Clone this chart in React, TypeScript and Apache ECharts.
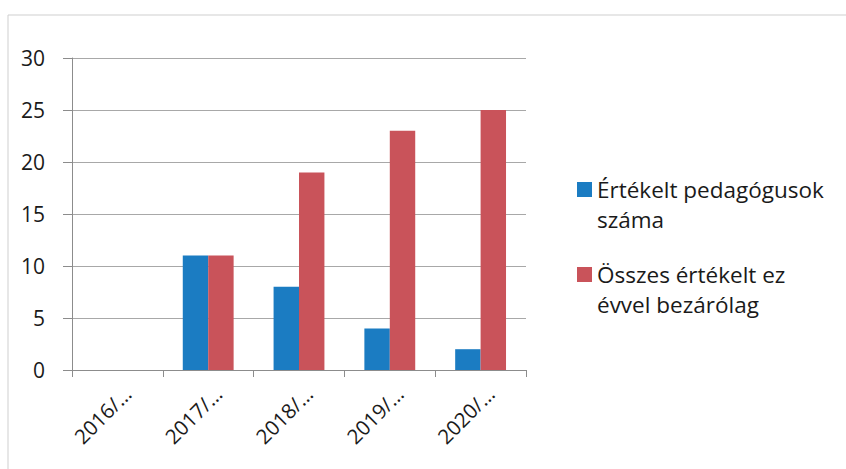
import React, { useEffect, useRef } from "react";
import * as echarts from "echarts";

const categories = ["2016/2017", "2017/2018", "2018/2019", "2019/2020", "2020/2021"];
const seriesNames = ["Értékelt pedagógusok\nszáma", "Összes értékelt ez\névvel bezárólag"];
const evaluated = [0, 11, 8, 4, 2];
const cumulative = [0, 11, 19, 23, 25];
const yTicks = { min: 0, max: 30, interval: 5 };

const FONT = "'Open Sans', 'Noto Sans', sans-serif";
// square placed in the upper part of a tall icon box so it lines up with the first text line
const LEGEND_ICON = "path://M0,0h0.01v0.01h-0.01z M0,7.5h15v15h-15z M0,59.99h0.01v0.01h-0.01z";

export default function App() {
  const ref = useRef<HTMLDivElement>(null);
  useEffect(() => {
    if (!ref.current) return;
    const chart = echarts.init(ref.current, null, { renderer: "svg" });
    chart.setOption({
      animation: false,
      backgroundColor: "#ffffff",
      textStyle: { fontFamily: FONT },
      grid: { left: 72, right: 320, top: 58, bottom: 99, containLabel: false },
      graphic: [
        { type: "line", shape: { x1: 8, y1: 15, x2: 8, y2: 469 }, style: { stroke: "#cfcfcf", lineWidth: 1 } },
        { type: "line", shape: { x1: 8, y1: 15, x2: 846, y2: 15 }, style: { stroke: "#cfcfcf", lineWidth: 1 } },
      ],
      legend: {
        data: seriesNames,
        orient: "vertical",
        left: 577,
        top: 174.5,
        padding: 0,
        itemGap: 25,
        icon: LEGEND_ICON,
        itemWidth: 15,
        itemHeight: 60,
        selectedMode: false,
        textStyle: {
          fontSize: 22.5,
          lineHeight: 30,
          color: "#1a1a1a",
          fontFamily: FONT,
        },
      },
      xAxis: {
        type: "category",
        data: categories,
        axisLine: { lineStyle: { color: "#8c8c8c", width: 1 } },
        axisTick: { show: true, length: 7, lineStyle: { color: "#8c8c8c" } },
        axisLabel: {
          rotate: 45,
          margin: 30,
          fontSize: 20.5,
          color: "#1a1a1a",
          fontFamily: FONT,
          padding: [0, -14, 0, 0],
          formatter: (v: string) => v.slice(0, 5) + "…",
        },
      },
      yAxis: {
        type: "value",
        min: yTicks.min,
        max: yTicks.max,
        interval: yTicks.interval,
        axisLine: { show: true, lineStyle: { color: "#8c8c8c", width: 1 } },
        axisTick: { show: true, length: 9, lineStyle: { color: "#8c8c8c" } },
        axisLabel: { margin: 27, fontSize: 21, color: "#1a1a1a", fontFamily: FONT },
        splitLine: { show: true, lineStyle: { color: "#a8a8a8", width: 1 } },
      },
      series: [
        {
          name: seriesNames[0],
          type: "bar",
          data: evaluated,
          barGap: "0%",
          barCategoryGap: "44%",
          itemStyle: { color: "#1b7cc2" },
        },
        {
          name: seriesNames[1],
          type: "bar",
          data: cumulative,
          barGap: "0%",
          barCategoryGap: "44%",
          itemStyle: { color: "#c9535a" },
        },
      ],
    });
    return () => chart.dispose();
  }, []);
  return (
    <div
      ref={ref}
      style={{ position: "fixed", left: 0, top: 0, width: 846, height: 469 }}
    />
  );
}
